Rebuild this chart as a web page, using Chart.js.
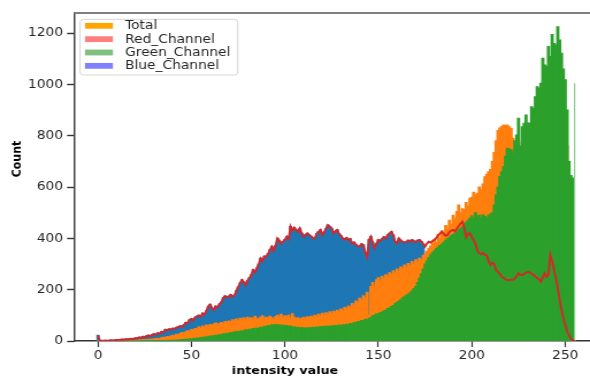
<!DOCTYPE html>
<html>
<head>
<meta charset="utf-8">
<script src="https://cdn.jsdelivr.net/npm/chart.js@4.4.1/dist/chart.umd.min.js"></script>
<style>
  html, body { margin: 0; padding: 0; background: #fff; overflow: hidden; }
  #wrap { width: 513px; height: 378px; transform: scaleX(1.1501); transform-origin: 0 0; }
  #c { display: block; }
</style>
</head>
<body>
<div id="wrap"><canvas id="c" width="513" height="378"></canvas></div>
<script>
// Pixel intensity bins 0..255
const bins = Array.from({ length: 256 }, (_, i) => i);

// Red channel histogram (drawn as a line)
const redCounts = [
  22,2,1,1,2,1,2,3,2,3,
  4,3,5,6,5,7,6,8,9,8,
  11,10,14,12,17,15,19,22,18,24,
  27,25,31,29,36,33,44,42,46,45,
  49,47,52,55,58,56,63,72,70,82,
  86,80,92,96,100,95,108,104,118,135,
  142,128,121,135,131,144,152,168,175,170,
  174,180,172,178,196,210,226,238,230,218,
  236,246,258,277,268,284,300,322,312,330,
  329,340,355,368,352,372,400,392,380,387,
  395,407,398,446,430,442,433,425,439,420,
  407,414,420,413,408,402,400,418,426,433,
  413,425,438,452,446,439,420,428,433,418,
  410,400,396,402,394,398,381,385,376,368,
  370,378,374,345,329,395,407,385,362,380,
  394,390,398,405,400,413,420,426,413,387,
  381,400,392,387,384,387,392,387,394,390,
  386,392,394,388,378,368,380,387,384,390,
  395,402,412,420,426,418,410,413,425,430,
  433,428,438,448,458,465,440,405,418,420,
  405,394,378,352,342,338,344,336,335,310,
  296,305,300,277,270,262,251,246,240,238,
  236,240,238,244,252,264,258,257,262,266,
  270,268,262,258,251,246,240,231,248,264,
  250,258,335,310,277,245,205,160,121,88,
  62,38,23,8,3,0
];

// Blue channel histogram
const blueCounts = [
  22,2,1,1,2,1,2,3,2,3,
  4,3,5,6,5,7,6,8,9,8,
  11,10,14,12,17,15,19,22,18,24,
  27,25,31,29,36,33,44,42,46,45,
  49,47,52,55,58,56,63,72,70,82,
  86,80,92,96,100,95,108,104,118,135,
  142,128,121,135,131,144,152,168,175,170,
  174,180,172,178,196,210,226,238,230,218,
  236,246,258,277,268,284,300,322,312,330,
  329,340,355,368,352,372,400,392,380,387,
  395,407,398,446,430,442,433,425,439,420,
  407,414,420,413,408,402,400,418,426,433,
  413,425,438,452,446,439,420,428,433,418,
  410,400,396,402,394,398,381,385,376,368,
  370,378,374,345,329,395,407,385,362,380,
  394,390,398,405,400,413,420,426,413,387,
  381,400,392,387,384,387,392,387,394,390,
  386,392,394,388,378,0,0,0,0,0,
  0,0,0,0,0,0,0,0,0,0,
  0,0,0,0,0,0,0,0,0,0,
  0,0,0,0,0,0,0,0,0,0,
  0,0,0,0,0,0,0,0,0,0,
  0,0,0,0,0,0,0,0,0,0,
  0,0,0,0,0,0,0,0,0,0,
  0,0,0,0,0,0,0,0,0,0,
  0,0,0,0,0,0
];

// Combined (total) histogram
const totalCounts = [
  0,0,0,0,1,0,1,1,0,1,
  1,1,2,1,2,2,1,2,3,2,
  3,2,4,3,5,4,5,6,5,7,
  6,9,10,8,12,14,13,17,15,19,
  22,20,26,24,29,33,30,36,40,37,
  44,42,48,46,55,50,58,54,62,57,
  64,60,66,70,63,68,72,66,76,71,
  78,74,82,77,85,79,88,82,90,84,
  92,86,90,82,96,88,84,92,98,86,
  92,88,96,90,84,94,100,92,104,90,
  98,94,100,88,106,92,86,90,84,88,
  92,86,94,90,96,92,100,94,104,98,
  108,100,110,104,114,106,116,112,120,114,
  124,118,130,124,136,130,146,138,156,148,
  166,158,176,168,190,100,212,228,214,238,
  246,234,252,244,258,250,266,258,274,264,
  280,272,288,280,296,286,302,294,310,300,
  316,308,322,314,333,340,350,360,370,380,
  395,385,415,400,430,418,450,435,470,455,
  490,475,505,530,500,515,511,540,525,556,
  560,580,570,576,600,590,612,640,650,660,
  668,700,735,780,820,830,836,842,840,842,
  835,828,790,740,760,770,740,780,800,810,
  820,830,840,850,860,870,880,900,910,920,
  930,940,950,960,970,980,990,960,920,880,
  820,760,640,520,430,0
];

// Green channel histogram
const greenCounts = [
  0,0,0,0,0,0,0,0,0,0,
  0,0,0,0,0,0,0,0,0,0,
  0,0,0,0,1,0,1,1,0,1,
  1,1,2,1,2,2,1,2,3,2,
  3,3,2,4,3,5,4,6,5,8,
  6,9,8,11,10,13,12,15,14,18,
  16,20,18,22,20,25,23,28,26,30,
  28,33,31,36,34,38,36,40,38,43,
  41,45,43,48,46,50,48,53,51,57,
  55,60,58,63,60,64,61,63,58,62,
  57,60,55,58,52,55,50,53,48,52,
  47,51,48,52,49,53,50,54,51,56,
  53,57,54,58,55,59,56,60,58,62,
  59,63,61,65,63,68,66,72,70,76,
  74,80,78,84,82,88,90,98,100,106,
  104,110,112,118,120,126,128,134,138,145,
  150,156,160,168,172,178,182,188,196,204,
  212,228,245,262,280,300,312,325,335,345,
  352,360,366,372,378,385,392,398,404,410,
  415,420,426,432,438,445,452,462,470,478,
  488,475,500,482,490,480,492,485,478,490,
  495,500,530,570,600,641,660,680,720,751,
  748,745,732,780,803,868,760,835,849,881,
  850,849,913,905,952,991,985,1005,1102,1076,
  1070,1148,1109,1195,1160,1154,1225,1173,1122,1060,
  1018,900,700,645,635,0
];

// Last green bin, drawn as a thin light bar
const greenEdgeBin = [255];
const greenEdgeCount = [1005];

const xTicks = [0, 50, 100, 150, 200, 250];
const yTicks = [0, 200, 400, 600, 800, 1000, 1200];

const legendLabels = ['Total', 'Red_Channel', 'Green_Channel', 'Blue_Channel'];
const legendColors = ['#ffa500', '#ff7f7f', '#7fbf7f', '#7f7fff'];

const FONT = "'DejaVu Sans', sans-serif";
Chart.defaults.font.family = FONT;

const toPoints = (xs, ys) => xs.map((x, i) => ({ x, y: ys[i] }));

// Top spine, axis titles and the boxed legend
const decorations = {
  id: 'decorations',
  afterDraw(chart) {
    const { ctx, chartArea: a } = chart;
    ctx.save();
    ctx.strokeStyle = '#7f7f7f';
    ctx.lineWidth = 2;
    ctx.beginPath();
    ctx.moveTo(a.left, a.top);
    ctx.lineTo(a.right, a.top);
    ctx.stroke();

    ctx.fillStyle = '#000';
    ctx.font = 'bold 11px ' + FONT;
    ctx.textAlign = 'center';
    ctx.textBaseline = 'middle';
    ctx.fillText('intensity value', 247.8, 371);
    ctx.save();
    ctx.translate(14.8, 159);
    ctx.rotate(-Math.PI / 2);
    ctx.fillText('Count', 0, 0);
    ctx.restore();

    // legend frame
    const bx = 69.6, by = 19.3, bw = 137.1, bh = 55.7, r = 3;
    ctx.beginPath();
    ctx.moveTo(bx + r, by);
    ctx.arcTo(bx + bw, by, bx + bw, by + bh, r);
    ctx.arcTo(bx + bw, by + bh, bx, by + bh, r);
    ctx.arcTo(bx, by + bh, bx, by, r);
    ctx.arcTo(bx, by, bx + bw, by, r);
    ctx.closePath();
    ctx.fillStyle = 'rgba(255,255,255,0.8)';
    ctx.fill();
    ctx.strokeStyle = '#d6d6d6';
    ctx.lineWidth = 1;
    ctx.stroke();

    ctx.font = '12px ' + FONT;
    ctx.textAlign = 'left';
    legendLabels.forEach((label, i) => {
      const cy = 25.8 + i * 13.35;
      ctx.fillStyle = legendColors[i];
      ctx.fillRect(73.9, cy - 2.9, 24.3, 5.8);
      ctx.fillStyle = '#262626';
      ctx.fillText(label, 108.7, cy + 0.5);
    });
    ctx.restore();
  }
};

new Chart(document.getElementById('c'), {
  type: 'bar',
  data: {
    datasets: [
      {
        type: 'line', label: 'Red_Channel', data: toPoints(bins, redCounts),
        borderColor: '#d62728', borderWidth: 1.9, pointRadius: 0, tension: 0, fill: false, order: 0
      },
      {
        label: 'Green_Channel', data: toPoints(greenEdgeBin, greenEdgeCount),
        backgroundColor: '#8fcc8f', barThickness: 1.2, inflateAmount: 0, order: 1
      },
      { label: 'Green_Channel', data: toPoints(bins, greenCounts), backgroundColor: '#2ca02c', order: 2 },
      { label: 'Total', data: toPoints(bins, totalCounts), backgroundColor: '#ff7f0e', order: 3 },
      { label: 'Blue_Channel', data: toPoints(bins, blueCounts), backgroundColor: '#1f77b4', order: 4 }
    ]
  },
  options: {
    responsive: false,
    animation: false,
    devicePixelRatio: 1,
    layout: { padding: { top: 13, left: 0, right: 0, bottom: 0 } },
    datasets: { bar: { grouped: false, barPercentage: 1, categoryPercentage: 1, borderWidth: 0, inflateAmount: 0.6 } },
    plugins: { legend: { display: false }, tooltip: { enabled: false } },
    scales: {
      x: {
        type: 'linear', min: -12.84, max: 263.24, offset: false,
        afterFit: (s) => { s.height = 37; },
        afterBuildTicks: (s) => { s.ticks = xTicks.map((v) => ({ value: v })); },
        grid: { offset: false, drawOnChartArea: false, drawTicks: true, tickLength: 6, tickColor: '#333', tickWidth: 1.2 },
        border: { display: true, color: '#333', width: 1.5 },
        ticks: { color: '#262626', font: { size: 12 }, padding: 2, maxRotation: 0, autoSkip: false, callback: (v) => String(v) }
      },
      y: {
        type: 'linear', min: 0, max: 1279,
        afterFit: (s) => { s.width = 64.34; },
        afterBuildTicks: (s) => { s.ticks = yTicks.map((v) => ({ value: v })); },
        grid: { drawOnChartArea: false, drawTicks: true, tickLength: 6, tickColor: '#333', tickWidth: 1.4 },
        border: { display: true, color: '#444', width: 1.5 },
        ticks: { color: '#262626', font: { size: 12 }, padding: 3.5, callback: (v) => String(v) }
      }
    }
  },
  plugins: [decorations]
});
</script>
</body>
</html>
